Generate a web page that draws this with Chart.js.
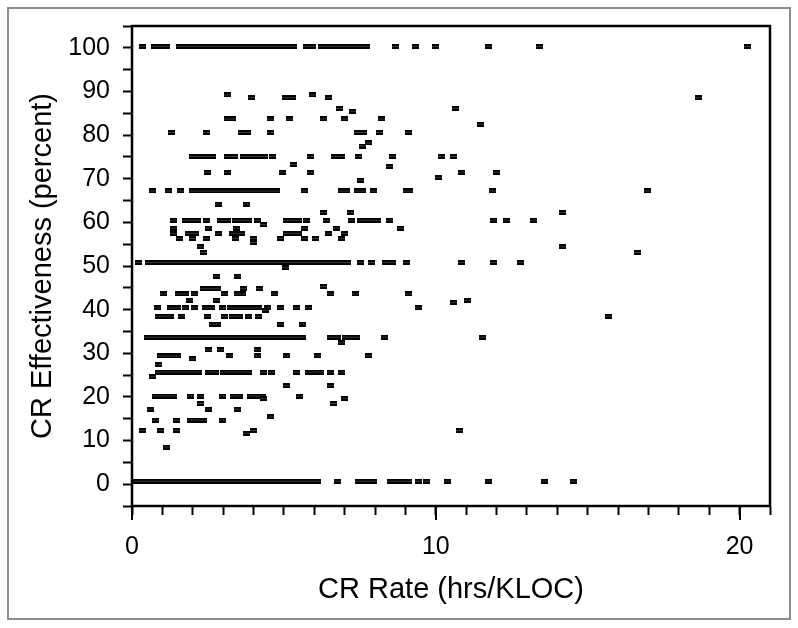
<!DOCTYPE html>
<html>
<head>
<meta charset="utf-8">
<script src="https://cdn.jsdelivr.net/npm/chart.js@4.4.1/dist/chart.umd.min.js"></script>
<style>
  html, body { margin: 0; padding: 0; background: #fff; }
  #wrap { width: 798px; height: 628px; position: relative; }
</style>
</head>
<body>
<div id="wrap"><canvas id="chart" width="798" height="628"></canvas></div>
<script>
// CR rate (hrs/KLOC) values, grouped by the effectiveness level they sit on
const at100 = [0.34, 0.74, 0.92, 1.12, 1.55, 1.72, 1.9, 2.1, 2.26, 2.44, 2.62, 2.8, 2.98, 3.16, 3.34, 3.5, 3.65, 3.83, 4.0, 4.18, 4.36, 4.5, 4.62, 4.8, 4.98, 5.15, 5.3, 5.73, 5.95, 6.25, 6.45, 6.62, 6.8, 6.98, 7.16, 7.28, 7.48, 7.72, 8.67, 9.33, 9.98, 11.73, 13.4, 20.25];
const at89 = [3.13, 5.95];
const at88 = [3.92, 5.05, 5.27, 6.47, 18.66];
const at86 = [6.83, 10.64];
const at85 = [7.26];
const at84 = [3.13, 3.3, 4.55, 5.2, 6.29, 7.0, 8.21];
const at82 = [11.46];
const at81 = [1.29, 2.44, 3.62, 3.79, 4.56, 7.41, 7.62, 8.14, 9.1];
const at78 = [7.79];
const at77 = [7.6];
const at75 = [1.98, 2.22, 2.42, 2.66, 3.13, 3.38, 3.68, 3.9, 4.12, 4.36, 4.63, 5.87, 6.66, 6.9, 7.44, 8.58, 10.2, 10.59];
const at73 = [5.32];
const at72 = [8.48];
const at71 = [2.5, 3.13, 4.97, 5.87, 10.84, 11.99];
const at70 = [10.1];
const at69 = [7.52];
const at67 = [0.66, 1.21, 1.6, 1.98, 2.18, 2.38, 2.58, 2.74, 2.92, 3.1, 3.28, 3.46, 3.64, 3.82, 4.0, 4.18, 4.36, 4.54, 4.74, 5.67, 6.9, 7.05, 7.42, 7.6, 7.95, 9.02, 9.15, 11.88, 16.98];
const at64 = [2.86, 3.76];
const at62 = [6.31, 7.19, 14.18];
const at60 = [1.38, 1.76, 1.96, 2.16, 2.45, 2.91, 3.15, 3.4, 3.62, 3.84, 4.12, 5.1, 5.27, 5.49, 5.76, 6.39, 7.24, 7.52, 7.68, 7.9, 8.07, 8.48, 11.9, 12.34, 13.22];
const at59 = [4.33];
const at58 = [1.38, 2.53, 3.44, 5.67, 6.73, 8.84];
const at57 = [1.38, 1.86, 2.1, 2.86, 3.3, 3.5, 3.62, 5.1, 5.3, 5.49, 6.47, 6.99];
const at56 = [1.57, 1.98, 2.45, 3.4, 4.0, 4.88, 5.67, 6.04, 6.91];
const at55 = [4.0];
const at54 = [2.25, 14.18];
const at53 = [2.34, 16.65];
const at51 = [0.22, 0.55, 0.73, 0.9, 1.08, 1.26, 1.44, 1.62, 1.86, 2.04, 2.22, 2.4, 2.58, 2.76, 2.94, 3.12, 3.3, 3.48, 3.66, 3.84, 4.02, 4.2, 4.38, 4.56, 4.74, 4.92, 5.1, 5.28, 5.46, 5.64, 5.82, 6.0, 6.18, 6.36, 6.54, 6.72, 6.9, 7.08, 7.52, 7.87, 8.34, 8.56, 9.03, 10.84, 11.9, 12.78];
const at50 = [5.05];
const at48 = [2.78, 3.48];
const at45a = [6.29];
const at45 = [2.36, 2.58, 2.8, 3.68, 4.2];
const at44 = [1.03, 1.54, 1.75, 2.05, 3.05, 3.46, 3.64, 4.7, 6.55, 7.35, 9.1];
const at42 = [1.9, 2.78, 11.03];
const at41 = [10.59];
const at40 = [0.83, 1.27, 1.5, 1.75, 2.05, 2.42, 2.62, 2.97, 3.24, 3.46, 3.7, 3.94, 4.17, 4.45, 4.88, 5.43, 5.82, 9.43];
const at39 = [4.4];
const at38 = [0.88, 1.05, 1.27, 1.63, 2.5, 3.05, 3.3, 3.55, 3.84, 4.17, 15.68];
const at36 = [2.64, 2.8, 4.88, 5.6];
const at34 = [0.5, 0.7, 0.9, 1.1, 1.28, 1.46, 1.64, 1.82, 2.0, 2.18, 2.36, 2.54, 2.72, 2.9, 3.08, 3.26, 3.44, 3.62, 3.8, 3.98, 4.16, 4.34, 4.52, 4.7, 4.88, 5.06, 5.24, 5.42, 5.6, 6.53, 6.75, 7.02, 7.2, 7.4, 8.32, 11.55];
const at32 = [6.91];
const at31 = [2.53, 2.9, 4.12];
const at29 = [0.94, 1.12, 1.3, 1.5, 3.22, 4.12, 5.1, 6.12, 7.79];
const at28 = [1.98];
const at27 = [0.86];
const at26 = [0.88, 1.05, 1.21, 1.43, 1.62, 1.8, 1.98, 2.18, 2.53, 2.75, 3.0, 3.22, 3.42, 3.62, 3.85, 4.33, 4.6, 5.41, 5.82, 6.04, 6.2, 6.55, 6.91];
const at24 = [0.68];
const at22 = [5.07, 6.55];
const at20 = [0.77, 0.94, 1.15, 1.38, 1.92, 2.25, 2.97, 3.35, 3.55, 3.9, 4.1, 4.28, 5.51];
const at19 = [4.33, 6.99];
const at18 = [2.25, 6.64];
const at17 = [0.61, 2.53, 3.48];
const at15 = [4.56];
const at14 = [0.77, 1.46, 1.92, 2.14, 2.34, 2.97];
const at12 = [0.34, 0.94, 1.46, 4.0, 10.77];
const at11 = [3.76];
const at8 = [1.12];
const at0 = [0.0, 0.22, 0.4, 0.58, 0.76, 0.94, 1.12, 1.3, 1.48, 1.66, 1.84, 2.02, 2.2, 2.38, 2.56, 2.74, 2.92, 3.1, 3.28, 3.46, 3.64, 3.82, 4.0, 4.18, 4.36, 4.54, 4.72, 4.9, 5.08, 5.26, 5.49, 5.7, 5.9, 6.09, 6.75, 7.46, 7.62, 7.8, 7.95, 8.5, 8.65, 8.78, 8.92, 9.1, 9.43, 9.7, 10.4, 11.72, 13.57, 14.53];

// effectiveness (percent) of each group above
const levels = [
  [100.3, at100], [89.2, at89], [88.6, at88], [86.1, at86], [85.5, at85],
  [83.7, at84], [82.5, at82], [80.6, at81], [78.2, at78], [77.5, at77],
  [75.1, at75], [73.3, at73], [72.8, at72], [71.5, at71], [70.3, at70],
  [69.7, at69], [67.2, at67], [64.2, at64], [62.3, at62], [60.5, at60],
  [59.5, at59], [58.7, at58], [57.5, at57], [56.3, at56], [55.4, at55],
  [54.4, at54], [53.1, at53], [50.8, at51], [49.6, at50], [47.7, at48],
  [45.3, at45a], [44.8, at45], [43.6, at44], [42.2, at42], [41.6, at41],
  [40.4, at40], [39.9, at39], [38.5, at38], [36.7, at36], [33.7, at34],
  [32.4, at32], [30.8, at31], [29.4, at29], [28.7, at28], [27.4, at27],
  [25.7, at26], [24.6, at24], [22.6, at22], [20.2, at20], [19.6, at19],
  [18.5, at18], [17.2, at17], [15.4, at15], [14.7, at14], [12.3, at12],
  [11.7, at11], [8.5, at8], [0.7, at0]
];

const xMajorTicks = [0, 10, 20];
const yLabelTicks = [0, 10, 20, 30, 40, 50, 60, 70, 80, 90, 100];

const points = [];
levels.forEach(([eff, rates]) => {
    rates.forEach(r => points.push({ x: r, y: eff }));
});

// small dash-like marker
const marker = document.createElement('canvas');
marker.width = 7;
marker.height = 5;
const mctx = marker.getContext('2d');
mctx.fillStyle = '#000';
mctx.fillRect(0, 0, 7, 5);
mctx.fillStyle = '#3a3a3a';
mctx.fillRect(0, 2, 7, 1);

const FONT = "'Liberation Sans', Arial, sans-serif";

const framePlugin = {
    id: 'frame',
    beforeDraw(chart) {
        const ctx = chart.ctx;
        ctx.save();
        ctx.fillStyle = '#fff';
        ctx.fillRect(0, 0, chart.width, chart.height);
        ctx.strokeStyle = '#8c8c8c';
        ctx.lineWidth = 2;
        ctx.strokeRect(8, 8, 782, 611);
        ctx.restore();
    },
    afterDraw(chart) {
        const { ctx, chartArea } = chart;
        const xs = chart.scales.x;
        ctx.save();
        ctx.strokeStyle = '#000';
        ctx.lineWidth = 2.5;
        ctx.strokeRect(chartArea.left, chartArea.top, chartArea.right - chartArea.left, chartArea.bottom - chartArea.top);
        // longer marks for the labelled x ticks
        ctx.lineWidth = 2;
        xMajorTicks.forEach(v => {
            const px = Math.round(xs.getPixelForValue(v));
            ctx.beginPath();
            ctx.moveTo(px, chartArea.bottom);
            ctx.lineTo(px, chartArea.bottom + 14);
            ctx.stroke();
        });
        ctx.restore();
    }
};

new Chart(document.getElementById('chart'), {
    type: 'scatter',
    data: {
        datasets: [{
            data: points,
            pointStyle: marker,
            pointRadius: 3,
            pointHoverRadius: 3,
            backgroundColor: '#000',
            borderColor: '#000'
        }]
    },
    options: {
        responsive: false,
        animation: false,
        devicePixelRatio: 1,
        layout: { padding: { left: 0, top: 26, right: 28, bottom: 0 } },
        plugins: {
            legend: { display: false },
            tooltip: { enabled: false }
        },
        scales: {
            x: {
                type: 'linear',
                min: 0,
                max: 21,
                afterFit: s => { s.height = 122; },
                border: { display: true, color: '#000', width: 2 },
                grid: { drawOnChartArea: false, drawTicks: true, tickLength: 9, tickColor: '#000', tickWidth: 2 },
                ticks: {
                    stepSize: 1,
                    autoSkip: false,
                    maxRotation: 0,
                    padding: 17,
                    color: '#000',
                    font: { family: FONT, size: 25 },
                    callback: v => xMajorTicks.includes(v) ? String(v) : ''
                },
                title: {
                    display: true,
                    text: 'CR Rate (hrs/KLOC)',
                    color: '#000',
                    font: { family: FONT, size: 29 },
                    padding: { top: 0, bottom: 21 }
                }
            },
            y: {
                type: 'linear',
                min: -5,
                max: 105,
                afterFit: s => { s.width = 132; },
                border: { display: true, color: '#000', width: 2 },
                grid: { drawOnChartArea: false, drawTicks: true, tickLength: 9, tickColor: '#000', tickWidth: 2 },
                ticks: {
                    stepSize: 5,
                    autoSkip: false,
                    padding: 13,
                    color: '#000',
                    // lineHeight 1 keeps the label half-height from pushing the plot top down
                    font: { family: FONT, size: 25, lineHeight: 1 },
                    callback: v => yLabelTicks.includes(v) ? String(v) : ''
                },
                title: {
                    display: true,
                    text: 'CR Effectiveness (percent)',
                    color: '#000',
                    font: { family: FONT, size: 29 },
                    padding: { top: 26, bottom: 0 }
                }
            }
        }
    },
    plugins: [framePlugin]
});
</script>
</body>
</html>
